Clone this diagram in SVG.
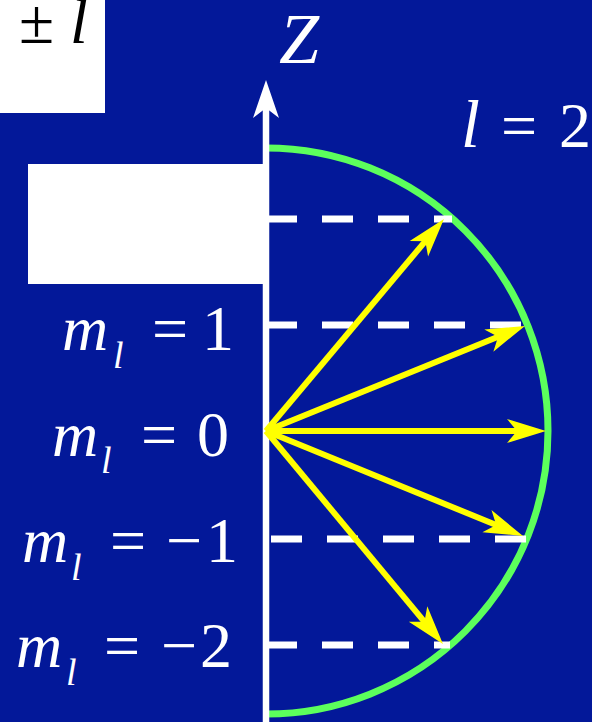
<svg xmlns="http://www.w3.org/2000/svg" width="592" height="722" viewBox="0 0 592 722" font-family="'Liberation Serif', 'Times New Roman', 'DejaVu Serif', serif">
<style>
text{font-family:"Liberation Serif","Times New Roman","DejaVu Serif",serif;fill:#fff;font-size:64px}
.it{font-style:italic}
.sub{font-style:italic;font-size:38px}
.dash{stroke:#fff;stroke-width:7;stroke-dasharray:31 25;fill:none}
.vec{stroke:#ffff00;stroke-width:6;fill:none;marker-end:url(#head)}
</style>
<defs>
<marker id="head" markerUnits="userSpaceOnUse" orient="auto" refX="0" refY="0" markerWidth="60" markerHeight="40" overflow="visible">
<path d="M25,0 L-14,-12 L-4,0 L-14,12 Z" fill="#ffff00"/>
</marker>
</defs>
<rect width="592" height="722" fill="#031899"/>
<g id="box-top"><rect x="0" y="0" width="105" height="113" fill="#fff"/>
<text x="19" y="43" style="fill:#000">±</text><text class="it" x="70" y="43" style="fill:#000;font-size:64px">l</text></g>
<g id="box-mid"><rect x="28" y="164" width="235" height="120" fill="#fff"/></g>
<g id="circle"><path d="M266,148 A282,283 0 0 1 266,714" fill="none" stroke="#5cff5c" stroke-width="7"/></g>
<g id="levels">
<line class="dash" x1="266" y1="219" x2="452" y2="219"/>
<line class="dash" x1="266" y1="325" x2="528" y2="325"/>
<line class="dash" x1="266" y1="539" x2="527" y2="539" stroke-dashoffset="-5"/>
<line class="dash" x1="266" y1="645" x2="450" y2="645"/>
</g>
<g id="axis">
<line x1="266" y1="722" x2="266" y2="106" stroke="#fff" stroke-width="6.5"/>
<path d="M266,80 L253,118 L266,108 L279,118 Z" fill="#fff"/>
<text class="it" x="279" y="63" style="font-size:72px">Z</text>
</g>
<g id="connectors">
<line class="vec" x1="266" y1="431" x2="427.9" y2="238.1"/>
<line class="vec" x1="266" y1="431" x2="501.8" y2="335.3"/>
<line class="vec" x1="266" y1="431" x2="521" y2="431"/>
<line class="vec" x1="266" y1="431" x2="499.9" y2="526.5"/>
<line class="vec" x1="266" y1="431" x2="427" y2="624.8"/>
</g>
<g id="label-l"><text><tspan class="it" x="461" y="147" style="font-size:68px">l</tspan><tspan x="501" y="147">=</tspan><tspan x="559" y="147">2</tspan></text></g>
<g id="label-m1"><text><tspan class="it" x="62" y="350">m</tspan><tspan class="sub" x="113" y="368">l</tspan><tspan x="152" y="350">=</tspan><tspan x="202" y="350">1</tspan></text></g>
<g id="label-m0"><text><tspan class="it" x="52" y="456">m</tspan><tspan class="sub" x="101" y="473">l</tspan><tspan x="141" y="456">=</tspan><tspan x="197" y="456">0</tspan></text></g>
<g id="label-mneg1"><text><tspan class="it" x="22" y="562">m</tspan><tspan class="sub" x="71" y="580">l</tspan><tspan x="110" y="562">=</tspan><tspan x="166" y="562">−</tspan><tspan x="206" y="562">1</tspan></text></g>
<g id="label-mneg2"><text><tspan class="it" x="16" y="667">m</tspan><tspan class="sub" x="66" y="685">l</tspan><tspan x="104" y="667">=</tspan><tspan x="161" y="667">−</tspan><tspan x="200" y="667">2</tspan></text></g>
</svg>
